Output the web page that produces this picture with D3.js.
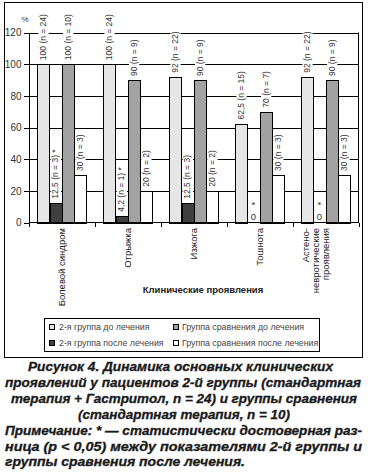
<!DOCTYPE html>
<html>
<head>
<meta charset="utf-8">
<title>Рисунок 4</title>
<script src="https://d3js.org/d3.v7.min.js"></script>
<style>
  body { margin: 0; background: #fff; }
  svg { display: block; font-family: "Liberation Sans", Arial, sans-serif; }
  .axis text { font-size: 10px; fill: #333; }
  .axis path, .axis line { stroke: #000; shape-rendering: crispEdges; }
  .grid line { stroke: #000; shape-rendering: crispEdges; }
  .bar { stroke: #000; stroke-width: 1; shape-rendering: crispEdges; }
  .bar-label { font-size: 8.5px; fill: #333; }
  .zero-label { font-size: 9.5px; fill: #333; }
  .cat-label { font-size: 9.5px; fill: #222; }
  .axis-title { font-size: 9.5px; font-weight: bold; fill: #222; }
  .legend text { font-size: 8.8px; fill: #444; }
  .caption { font-size: 12px; font-weight: bold; font-style: italic; fill: #1a1a1a;
             stroke: #1a1a1a; stroke-width: 0.3px; }
</style>
</head>
<body>
<svg width="370" height="474"></svg>
<script>
  // data
  const categories = ["Болевой синдром", "Отрыжка", "Изжога", "Тошнота",
    "Астено-\nневротические\nпроявления"];
  const seriesNames = ["2-я группа до лечения", "2-я группа после лечения",
    "Группа сравнения до лечения", "Группа сравнения после лечения"];
  const group2Before = [100, 100, 92, 62.5, 92];
  const group2After = [12.5, 4.2, 12.5, 0, 0];
  const compBefore = [100, 90, 90, 70, 90];
  const compAfter = [30, 20, 20, 30, 30];
  const nGroup2Before = [24, 24, 22, 15, 22];
  const nGroup2After = [3, 1, 3, 0, 0];
  const nCompBefore = [10, 9, 9, 7, 9];
  const nCompAfter = [3, 2, 2, 3, 3];
  const significant = [true, true, false, true, true]; // 2-я группа после лечения
  const yTicks = [0, 20, 40, 60, 80, 100, 120];
  const seriesColors = ["#e6e6e6", "#3f3f3f", "#a2a2a2", "#ffffff"];

  const captionLines = [
    "Рисунок 4. Динамика основных клинических",
    "проявлений у пациентов 2-й группы (стандартная",
    "терапия + Гастритол, n = 24) и группы сравнения",
    "(стандартная терапия, n = 10)",
    "Примечание: * — статистически достоверная раз-",
    "ница (p < 0,05) между показателями 2-й группы и",
    "группы сравнения после лечения."
  ];
  // x, width of each caption line
  const captionBoxes = [[28, 305], [5, 356], [11, 346], [78, 212], [5, 357], [5, 357], [5, 240]];

  const valueSets = [group2Before, group2After, compBefore, compAfter];
  const nSets = [nGroup2Before, nGroup2After, nCompBefore, nCompAfter];
  const rows = categories.map((c, i) => ({
    category: c,
    bars: valueSets.map((vals, k) => ({
      key: k,
      value: vals[i],
      n: nSets[k][i],
      sig: k === 1 && significant[i]
    }))
  }));

  const svg = d3.select("svg");
  svg.append("rect").attr("width", 370).attr("height", 474).attr("fill", "#fff");

  // outer frame
  svg.append("rect")
    .attr("x", 4.5).attr("y", 2.5)
    .attr("width", 358).attr("height", 355)
    .attr("fill", "none").attr("stroke", "#000");

  const left = 28.5, right = 358.5;
  const x = d3.scaleBand().domain(categories).range([left, right]);
  const xInner = d3.scaleBand().domain(d3.range(4))
    .range([0, x.bandwidth()]).paddingOuter(0.68);
  const y = d3.scaleLinear().domain([0, 120]).range([222.5, 32.5]);

  // gridlines
  svg.append("g").attr("class", "grid")
    .selectAll("line")
    .data(yTicks.filter(d => d > 0))
    .enter().append("line")
      .attr("x1", left).attr("x2", right)
      .attr("y1", d => Math.round(y(d)) + 0.5)
      .attr("y2", d => Math.round(y(d)) + 0.5);
  svg.append("line")
    .attr("x1", right).attr("x2", right)
    .attr("y1", y(120)).attr("y2", y(0))
    .attr("stroke", "#000");

  // bars
  const groups = svg.append("g").selectAll(".group")
    .data(rows)
    .enter().append("g")
      .attr("class", "group")
      .attr("transform", d => `translate(${x(d.category)}, 0)`);

  groups.selectAll(".bar")
    .data(d => d.bars)
    .enter().append("rect")
      .attr("class", "bar")
      .attr("x", d => Math.round(xInner(d.key)) + 0.5)
      .attr("width", Math.round(xInner.bandwidth()))
      .attr("y", d => Math.round(y(d.value)) + 0.5)
      .attr("height", d => Math.round(y(0)) - Math.round(y(d.value)))
      .attr("fill", d => seriesColors[d.key]);

  // bar labels
  const fmt = v => String(v).replace(".", ",");
  groups.selectAll(".bar-label")
    .data(d => d.bars.filter(b => b.value > 0))
    .enter().append("g")
      .attr("class", "bar-label")
      .each(function(d) {
        const g = d3.select(this);
        const cx = xInner(d.key) + xInner.bandwidth() / 2;
        const y0 = y(d.value) - 4;
        const t = g.append("text")
          .attr("transform", `translate(${cx + 3}, ${y0}) rotate(-90)`)
          .text(`${fmt(d.value)} (n = ${d.n})` + (d.sig ? " *" : ""));
        const len = t.node().getComputedTextLength();
        g.insert("rect", "text")
          .attr("x", xInner(d.key) + 1.5)
          .attr("width", xInner.bandwidth() - 2)
          .attr("y", y0 - len - 1)
          .attr("height", len + 2)
          .attr("fill", "#fff");
      });

  // zero bars: upright "0" with asterisk above
  const zeros = groups.selectAll(".zero")
    .data(d => d.bars.filter(b => b.value === 0))
    .enter().append("g").attr("class", "zero-label");
  zeros.append("text")
    .attr("x", d => xInner(d.key) + xInner.bandwidth() / 2)
    .attr("y", y(0) - 3)
    .attr("text-anchor", "middle")
    .text("0");
  zeros.append("text")
    .attr("x", d => xInner(d.key) + xInner.bandwidth() / 2)
    .attr("y", y(0) - 15)
    .attr("text-anchor", "middle")
    .text(d => d.sig ? "*" : "");

  // y axis
  svg.append("g")
    .attr("class", "axis")
    .attr("transform", `translate(${left}, 0)`)
    .call(d3.axisLeft(y).tickValues(yTicks).tickSize(5).tickPadding(2).tickSizeOuter(0));
  svg.append("text")
    .attr("x", 25).attr("y", 22)
    .attr("text-anchor", "middle")
    .attr("font-size", 8).attr("fill", "#333")
    .text("%");

  // x axis: line with ticks at category boundaries
  const xAxis = svg.append("g").attr("class", "axis");
  xAxis.append("line")
    .attr("x1", left).attr("x2", right)
    .attr("y1", y(0)).attr("y2", y(0));
  xAxis.selectAll(".tick")
    .data(categories.map(c => x(c)).concat([right]))
    .enter().append("line")
      .attr("x1", d => Math.round(d) + 0.5).attr("x2", d => Math.round(d) + 0.5)
      .attr("y1", y(0)).attr("y2", y(0) + 4);

  // category labels
  const catLabels = svg.append("g").selectAll(".cat-label")
    .data(categories)
    .enter().append("text")
      .attr("class", "cat-label")
      .attr("text-anchor", "end")
      .attr("transform", c => `translate(${x(c) + x.bandwidth() / 2}, 228) rotate(-90)`);
  catLabels.each(function(c) {
    const lines = c.split("\n");
    d3.select(this).selectAll("tspan")
      .data(lines)
      .enter().append("tspan")
        .attr("x", 0)
        .attr("dy", (l, i) => i === 0 ? (3.3 - (lines.length - 1) * 10) + "px" : "10px")
        .text(l => l);
  });

  svg.append("text")
    .attr("class", "axis-title")
    .attr("x", 203).attr("y", 293)
    .attr("text-anchor", "middle")
    .text("Клинические проявления");

  // legend
  const legend = svg.append("g").attr("class", "legend");
  legend.append("rect")
    .attr("x", 44.5).attr("y", 318.5)
    .attr("width", 275).attr("height", 33)
    .attr("fill", "#fff").attr("stroke", "#000");
  const legendPos = [[49, 327], [49, 343], [173, 327], [173, 343]];
  const items = legend.selectAll(".item")
    .data(seriesNames)
    .enter().append("g")
      .attr("class", "item")
      .attr("transform", (d, i) => `translate(${legendPos[i][0]}, ${legendPos[i][1]})`);
  items.append("rect")
    .attr("x", 0.5).attr("y", -2.5)
    .attr("width", 5).attr("height", 5)
    .attr("fill", (d, i) => seriesColors[i])
    .attr("stroke", "#000");
  items.append("text")
    .attr("x", (d, i) => i < 2 ? 10 : 9)
    .attr("y", 3)
    .text(d => d);

  // caption
  svg.append("g").selectAll(".caption")
    .data(captionLines)
    .enter().append("text")
      .attr("class", "caption")
      .attr("x", (d, i) => captionBoxes[i][0])
      .attr("y", (d, i) => 371 + i * 15.9)
      .attr("textLength", (d, i) => captionBoxes[i][1])
      .attr("lengthAdjust", "spacingAndGlyphs")
      .text(d => d);
</script>
</body>
</html>
